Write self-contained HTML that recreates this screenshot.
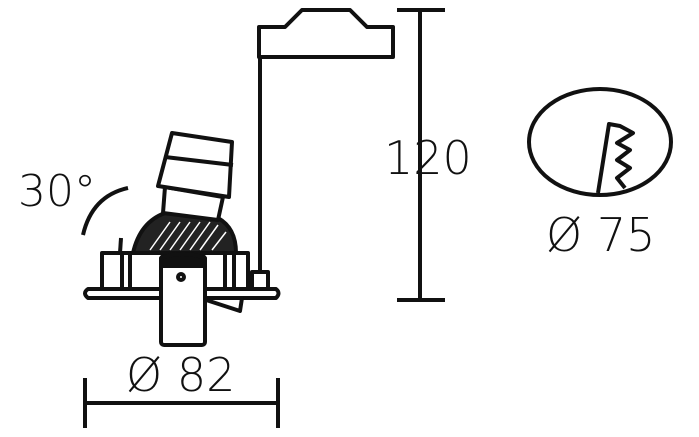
<!DOCTYPE html>
<html><head><meta charset="utf-8"><style>
html,body{margin:0;padding:0;background:#fff;width:699px;height:437px;overflow:hidden}
text{font-family:"DejaVu Sans","Liberation Sans",sans-serif;fill:#111;font-weight:300}
</style></head><body>
<svg width="699" height="437" viewBox="0 0 699 437" xmlns="http://www.w3.org/2000/svg">
<g fill="none" stroke="#111" stroke-width="4" stroke-linejoin="round">
<polygon points="259,27 285,27 302,10 350,10 367,27 393,27 393,57 259,57" fill="#fff"/>
<line x1="260" y1="57" x2="260" y2="272"/>
<rect x="252" y="272" width="16" height="17" fill="#fff"/>
<rect x="102" y="253" width="146" height="36" fill="#fff"/>
<line x1="122" y1="253" x2="122" y2="289"/>
<line x1="130" y1="253" x2="130" y2="289"/>
<line x1="225" y1="253" x2="225" y2="289"/>
<line x1="234" y1="253" x2="234" y2="289"/>
<line x1="120" y1="253" x2="121" y2="238"/>
<path d="M133,253 Q140,222 165,213 L218,218 Q236,228 236,253 Z" fill="#222"/>
<g stroke="#fff" stroke-width="1.5">
<line x1="150" y1="250" x2="170" y2="222"/><line x1="160" y1="250" x2="180" y2="222"/><line x1="170" y1="250" x2="190" y2="222"/><line x1="180" y1="250" x2="200" y2="222"/><line x1="190" y1="250" x2="210" y2="222"/><line x1="200" y1="250" x2="218" y2="225"/><line x1="212" y1="250" x2="226" y2="232"/>
</g>
<polygon points="165,187 223,197 218,220 163,213" fill="#fff"/>
<polygon points="172,133 232,142 229,197 158,186" fill="#fff"/>
<line x1="165" y1="157" x2="233" y2="165"/>
<path d="M88,289 L276,289 Q281,293 276,298 L88,298 Q82,293 88,289 Z" fill="#fff"/>
<polygon points="200,298 242,298 240,311" fill="#fff"/>
<rect x="161" y="256" width="44" height="89" rx="3" fill="#fff"/>
<path d="M161,258 Q183,250 205,258 L205,266 L161,266 Z" fill="#111"/>
<circle cx="181" cy="277" r="3"/>
<path d="M128,188 Q92,196 83,235"/>
<line x1="420" y1="10" x2="420" y2="300"/>
<line x1="397" y1="10" x2="445" y2="10"/>
<line x1="397" y1="300" x2="445" y2="300"/>
<line x1="85" y1="403" x2="278" y2="403"/>
<line x1="85" y1="378" x2="85" y2="428"/>
<line x1="278" y1="378" x2="278" y2="428"/>
<ellipse cx="600" cy="142" rx="71" ry="53"/>
<polyline points="598,193 609,124 620,126 633,133 617,143 630,150 617,160 630,168 617,178 625,188"/>
</g>
<text x="18" y="206" font-size="44">30°</text>
<text x="384" y="174" font-size="46">120</text>
<text x="126" y="391" font-size="46">Ø 82</text>
<text x="546" y="251" font-size="46">Ø 75</text>
</svg>
</body></html>
